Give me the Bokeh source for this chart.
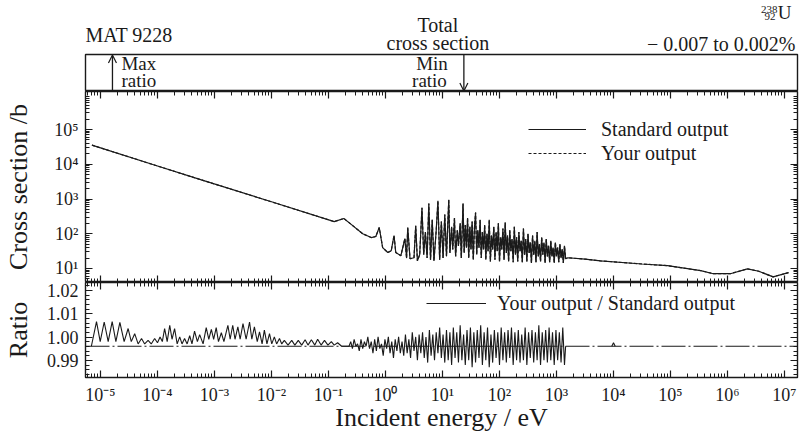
import numpy as np
from bokeh.plotting import figure
from bokeh.models import (Range1d, LogAxis, LinearAxis, FixedTicker, CustomJSTickFormatter,
                          Legend, LegendItem, Label, Arrow, OpenHead, Span)
from bokeh.layouts import column
from bokeh.embed import file_html
from bokeh.resources import INLINE

# ---------------- data ----------------
# total cross section, log10(E/eV) and log10(sigma/b)
xs_log_energy = [
    -5.15, -4.0, -3.23, -2.0, -0.90, -0.73, -0.64, -0.40, -0.25, -0.17, -0.11, -0.05, 0.04, 0.10, 0.15, 0.18, 0.27,
    0.34, 0.37, 0.39, 0.43, 0.50, 0.53, 0.56, 0.60, 0.64, 0.67, 0.70, 0.73, 0.76, 0.79, 0.82, 0.85, 0.89, 0.92,
    0.95, 0.98, 1.01, 1.04, 1.07, 1.11, 1.13, 1.16, 1.18, 1.21, 1.23, 1.26, 1.28, 1.31, 1.33, 1.36, 1.38, 1.40,
    1.42, 1.44, 1.46, 1.48, 1.50, 1.52, 1.54, 1.56, 1.58, 1.60, 1.62, 1.64, 1.66, 1.68, 1.70, 1.72, 1.74, 1.76,
    1.78, 1.80, 1.82, 1.84, 1.86, 1.88, 1.90, 1.92, 1.94, 1.96, 1.98, 2.00, 2.02, 2.04, 2.06, 2.08, 2.10, 2.12,
    2.14, 2.16, 2.18, 2.20, 2.22, 2.24, 2.26, 2.28, 2.30, 2.32, 2.34, 2.36, 2.38, 2.40, 2.42, 2.44, 2.46, 2.48,
    2.50, 2.52, 2.54, 2.56, 2.58, 2.60, 2.62, 2.64, 2.66, 2.68, 2.70, 2.72, 2.74, 2.76, 2.78, 2.80, 2.82, 2.84,
    2.86, 2.88, 2.90, 2.92, 2.94, 2.96, 2.98, 3.00, 3.02, 3.04, 3.06, 3.08, 3.10, 3.12, 3.14, 3.16,
    3.20, 3.50, 3.77, 4.50, 4.95, 5.53, 5.75, 6.05, 6.35, 6.55, 6.80, 7.07]
xs_log_sigma = [
    4.55, 3.95, 3.55, 2.92, 2.35, 2.44, 2.32, 2.00, 1.89, 1.92, 2.18, 1.60, 1.46, 1.51, 1.95, 1.46, 1.37,
    1.86, 1.30, 2.18, 1.28, 1.31, 2.23, 1.22, 1.40, 2.75, 1.40, 2.05, 1.30, 2.87, 1.25, 2.40, 1.22, 2.10, 2.95,
    1.25, 2.35, 1.30, 2.55, 1.35, 2.98, 1.45, 2.20, 1.55, 2.45, 1.35, 2.10, 1.65, 2.30, 1.30, 2.87, 1.45, 2.25,
    1.60, 2.45, 1.30, 2.20, 1.55, 2.35, 1.25, 2.15, 2.61, 1.40, 2.10, 1.60, 2.40, 1.30, 2.05, 1.55, 2.25, 1.25,
    2.00, 1.50, 2.40, 1.20, 1.95, 1.55, 2.20, 1.25, 2.05, 1.50, 2.30, 1.20, 1.90, 1.55, 2.15, 1.25, 2.32, 1.45,
    1.95, 1.20, 2.10, 1.50, 1.85, 1.18, 2.20, 1.40, 1.90, 1.20, 2.05, 1.50, 1.80, 1.18, 2.15, 1.40, 1.85, 1.20,
    2.00, 1.45, 1.75, 1.16, 1.95, 1.40, 1.80, 1.18, 2.05, 1.35, 1.70, 1.20, 1.90, 1.40, 1.75, 1.16, 1.85, 1.35,
    1.65, 1.18, 1.80, 1.35, 1.60, 1.16, 1.75, 1.35, 1.60, 1.18, 1.70, 1.30, 1.55, 1.16, 1.65, 1.28,
    1.31, 1.27, 1.22, 1.13, 1.08, 0.94, 0.85, 0.85, 0.99, 0.92, 0.76, 0.88]

# ratio your/standard, log10(E/eV) and ratio
ratio_log_energy = [
    -5.16, -5.07, -5.005, -4.935, -4.865, -4.795, -4.73, -4.66, -4.585, -4.515, -4.46, -4.40, -4.34, -4.28,
    -4.225, -4.165, -4.11, -4.05, -4.00, -3.955, -3.915, -3.875, -3.83, -3.785, -3.745, -3.70, -3.655, -3.61,
    -3.57, -3.525, -3.48, -3.435, -3.395, -3.35, -3.30, -3.26, -3.20, -3.145, -3.10, -3.055, -3.015, -2.97,
    -2.93, -2.88, -2.835, -2.765, -2.725, -2.68, -2.64, -2.59, -2.55, -2.50, -2.445, -2.385, -2.345, -2.30,
    -2.25, -2.21, -2.165, -2.125, -2.08, -2.035, -1.995, -1.95, -1.91, -1.86, -1.82, -1.775, -1.71, -1.645,
    -1.59, -1.53, -1.47, -1.41, -1.36, -1.30, -1.24, -1.19, -1.13, -1.07, -1.01, -0.95, -0.90, -0.84, -0.77,
    -0.68, -0.64, -0.61, -0.58, -0.55, -0.52, -0.49, -0.46, -0.43, -0.40, -0.37, -0.34, -0.31, -0.28, -0.25,
    -0.22, -0.19, -0.16, -0.13, -0.10, -0.07, -0.04, -0.01, 0.02, 0.05, 0.08, 0.11, 0.14, 0.17, 0.20, 0.23,
    0.26, 0.29, 0.32, 0.35, 0.38, 0.41, 0.44, 0.47, 0.50, 0.53, 0.56, 0.59, 0.62, 0.65, 0.68, 0.71, 0.74,
    0.77, 0.80, 0.83, 0.86, 0.89, 0.92, 0.95, 0.98, 1.01, 1.04, 1.07, 1.10, 1.13, 1.16, 1.19, 1.22, 1.25,
    1.28, 1.31, 1.34, 1.37, 1.40, 1.43, 1.46, 1.49, 1.52, 1.55, 1.58, 1.61, 1.64, 1.67, 1.70, 1.73, 1.76,
    1.79, 1.82, 1.85, 1.88, 1.91, 1.94, 1.97, 2.00, 2.03, 2.06, 2.09, 2.12, 2.15, 2.18, 2.21, 2.24, 2.27,
    2.30, 2.33, 2.36, 2.39, 2.42, 2.45, 2.48, 2.51, 2.54, 2.57, 2.60, 2.63, 2.66, 2.69, 2.72, 2.75, 2.78,
    2.81, 2.84, 2.87, 2.90, 2.93, 2.96, 2.99, 3.02, 3.05, 3.08, 3.11, 3.14, 3.16]
ratio_value = [
    0.9961, 1.0067, 0.9981, 1.0065, 0.9981, 1.0067, 0.9981, 1.0063, 0.9981, 1.0037, 0.9981, 1.0015, 0.9971, 0.9994,
    0.9971, 0.9986, 0.9971, 0.9994, 0.9976, 1.0001, 0.9981, 1.0037, 0.9981, 1.0051, 0.9991, 1.0037, 0.9971, 1.0001,
    0.9971, 0.9994, 0.9971, 1.0006, 0.9971, 1.0026, 0.9981, 1.0011, 0.9971, 1.0041, 0.9991, 1.0033, 0.9991, 1.0041,
    0.9981, 1.0019, 0.9981, 1.0051, 0.9991, 1.0051, 0.9991, 1.0044, 0.9991, 1.0058, 0.9991, 1.0065, 0.9991, 1.0044,
    0.9981, 1.0023, 0.9971, 1.0030, 0.9971, 1.0015, 0.9971, 1.0001, 0.9971, 0.9994, 0.9971, 0.9986, 0.9966, 0.9986,
    0.9966, 0.9986, 0.9966, 0.9989, 0.9966, 0.9989, 0.9966, 0.9991, 0.9966, 0.9986, 0.9966, 0.9981, 0.9966, 0.9976, 0.9961,
    0.9961, 0.9961, 0.9981, 0.9951, 0.9991, 0.9961, 0.9971, 0.9941, 0.9991, 0.9951, 0.9981, 0.9961, 1.0001, 0.9951, 0.9981,
    0.9931, 0.9991, 0.9941, 1.0001, 0.9951, 0.9971, 0.9921, 0.9991, 0.9951, 1.0001, 0.9931, 0.9981, 0.9911, 0.9991, 0.9941, 1.0001,
    0.9931, 0.9981, 0.9921, 1.0011, 0.9931, 0.9991, 0.9911, 1.0021, 0.9941, 1.0001, 0.9901, 1.0011, 0.9931, 1.0021, 0.9911, 1.0001, 0.9891,
    1.0031, 0.9921, 1.0011, 0.9901, 1.0021, 0.9931, 1.0041, 0.9911, 1.0011, 0.9891, 1.0031, 0.9901, 1.0021, 0.9881, 1.0041, 0.9911, 1.0021,
    0.9891, 1.0051, 0.9901, 1.0011, 0.9881, 1.0031, 0.9901, 1.0041, 0.9871, 1.0021, 0.9891, 1.0031, 0.9911, 1.0051, 0.9881, 1.0021, 0.9901,
    1.0041, 0.9871, 1.0011, 0.9891, 1.0031, 0.9911, 1.0021, 0.9881, 1.0041, 0.9901, 1.0021, 0.9891, 1.0031, 0.9911, 1.0041, 0.9881, 1.0021,
    0.9901, 1.0031, 0.9891, 1.0011, 0.9901, 1.0041, 0.9881, 1.0021, 0.9911, 1.0031, 0.9891, 1.0021, 0.9901, 1.0051, 0.9881, 1.0021, 0.9901,
    1.0031, 0.9891, 1.0041, 0.9901, 1.0021, 0.9881, 1.0031, 0.9901, 1.0021, 0.9891, 1.0041, 0.9881, 0.9961]
# small feature near 10 keV
ratio_bump_log_energy = [3.97, 4.00, 4.03]
ratio_bump_value = [0.9961, 0.9976, 0.9961]
ratio_reference = 0.9961

max_ratio_log_energy = -4.79
min_ratio_log_energy = 1.375

x_tick_exponents = list(range(-5, 8))
y_tick_exponents = [1, 2, 3, 4, 5]
ratio_ticks = [0.99, 1.00, 1.01, 1.02]

# ---------------- styling ----------------
FONT = "Liberation Serif"
INK = "#1a1a1a"
W = 800
LB, RB = 84, 3

x_range = Range1d(10 ** -5.263, 10 ** 7.228)

x_major = [10.0 ** k for k in x_tick_exponents]
x_minor = [m * 10.0 ** k for k in range(-6, 8) for m in range(2, 10)]

log_fmt = CustomJSTickFormatter(code="""
const sup = {'-':'\u207b','0':'\u2070','1':'\u00b9','2':'\u00b2','3':'\u00b3','4':'\u2074',
             '5':'\u2075','6':'\u2076','7':'\u2077','8':'\u2078','9':'\u2079'};
const e = Math.round(Math.log10(tick));
return '10' + String(e).split('').map(c => sup[c]).join('');
""")
blank_fmt = CustomJSTickFormatter(code="return '';")
ratio_fmt = CustomJSTickFormatter(code="return tick.toFixed(2);")


def style_axis(ax, labels):
    ax.major_tick_in = 7
    ax.major_tick_out = 0
    ax.minor_tick_in = 4
    ax.minor_tick_out = 0
    ax.major_tick_line_color = INK
    ax.minor_tick_line_color = INK
    ax.major_tick_line_width = 1.2
    ax.minor_tick_line_width = 1
    ax.axis_line_color = None
    ax.major_label_text_font = FONT
    ax.major_label_text_font_size = "18px"
    ax.major_label_text_color = INK
    ax.axis_label_text_font = FONT
    ax.axis_label_text_font_size = "26px"
    ax.axis_label_text_font_style = "normal"
    ax.axis_label_text_color = INK
    if not labels:
        ax.formatter = blank_fmt
        ax.major_label_text_font_size = "0px"
        ax.major_label_standoff = 0


def base_fig(height, y_axis_type, y_range, top, bottom, outline=True):
    f = figure(width=W, height=height, x_axis_type="log", y_axis_type=y_axis_type,
               x_range=x_range, y_range=y_range, x_axis_location=None, y_axis_location=None,
               output_backend="svg", toolbar_location=None,
               min_border_left=LB, min_border_right=RB, min_border_top=top, min_border_bottom=bottom)
    f.grid.visible = False
    f.outline_line_color = INK if outline else None
    f.outline_line_width = 1.4
    f.background_fill_color = "white"
    f.border_fill_color = "white"
    return f


def lab(fig, x, y, text, size, align="left", xo=0):
    fig.add_layout(Label(x=x, y=y, text=text, text_font=FONT, text_font_size=size, text_color=INK,
                         text_align=align, text_baseline="middle", x_offset=xo))


# ---------------- header texts (y in px above the strip bottom) ----------------
head = base_fig(53, "linear", Range1d(0, 53), 0, 0, outline=False)
lab(head, x_range.start, 19, "MAT 9228", "20px")
lab(head, 10 ** 0.919, 29, "Total", "20px", "center")
lab(head, 10 ** 0.919, 11, "cross section", "20px", "center")
lab(head, x_range.end, 10, "\u2212 0.007 to 0.002%", "20px", "right", -2)
lab(head, x_range.end, 44, "238", "11px", "right", -20)
lab(head, x_range.end, 37, "92", "11px", "right", -22)
lab(head, x_range.end, 41, "U", "19px", "right", -6)

# ---------------- annotation box ----------------
box = base_fig(38, "linear", Range1d(0, 37), 1, 0)
e_max = 10 ** max_ratio_log_energy
e_min = 10 ** min_ratio_log_energy
box.add_layout(Arrow(end=OpenHead(size=8, line_width=1.2, line_color=INK), x_start=e_max, y_start=0,
                     x_end=e_max, y_end=36.5, line_width=1.3, line_color=INK))
box.add_layout(Arrow(end=OpenHead(size=8, line_width=1.2, line_color=INK), x_start=e_min, y_start=37,
                     x_end=e_min, y_end=0.5, line_width=1.3, line_color=INK))
lab(box, e_max, 28, "Max", "19px", "left", 9)
lab(box, e_max, 11, "ratio", "19px", "left", 9)
lab(box, e_min, 28, "Min", "19px", "right", -16)
lab(box, e_min, 11, "ratio", "19px", "right", -17)

# ---------------- cross section panel ----------------
mid = base_fig(191, "log", Range1d(10 ** 0.597, 10 ** 6.094), 0, 0)
xs_e = 10 ** np.array(xs_log_energy)
xs_s = 10 ** np.array(xs_log_sigma)
r_std = mid.line(xs_e, xs_s, line_color=INK, line_width=1.2)
r_you = mid.line(xs_e, xs_s, line_color=INK, line_width=1.2, line_dash="3 2")

y_major = [10.0 ** k for k in y_tick_exponents]
y_minor = [m * 10.0 ** k for k in range(0, 7) for m in range(2, 10)]
for side, lbl in (("left", True), ("right", False)):
    ax = LogAxis(ticker=FixedTicker(ticks=y_major, minor_ticks=y_minor), formatter=log_fmt)
    style_axis(ax, lbl)
    if lbl:
        ax.axis_label = "Cross section /b"
        ax.major_label_standoff = 7
        ax.axis_label_standoff = 18
    mid.add_layout(ax, side)
for side in ("above", "below"):
    ax = LogAxis(ticker=FixedTicker(ticks=x_major, minor_ticks=x_minor))
    style_axis(ax, False)
    mid.add_layout(ax, side)

leg1 = Legend(items=[LegendItem(label="Standard output", renderers=[r_std]),
                     LegendItem(label="Your output", renderers=[r_you])],
              location=(443, 117), border_line_color=None, background_fill_alpha=0,
              label_text_font=FONT, label_text_font_size="20px", label_text_color=INK,
              glyph_width=58, glyph_height=24, label_height=24, label_standoff=15,
              padding=0, margin=0, spacing=0)
mid.add_layout(leg1)

# ---------------- ratio panel ----------------
bot = base_fig(153, "linear", Range1d(0.98271, 1.02343), 0, 58)
bot.add_layout(Span(location=ratio_reference, dimension="width", line_color=INK, line_width=1.2,
                    line_dash="24 3 2 3"))
r_ratio = bot.line(10 ** np.array(ratio_log_energy), ratio_value, line_color=INK, line_width=1.1)
bot.line(10 ** np.array(ratio_bump_log_energy), ratio_bump_value, line_color=INK, line_width=1.1)

r_minor = [0.984, 0.986, 0.988, 0.992, 0.994, 0.996, 0.998, 1.002, 1.004, 1.006, 1.008,
           1.012, 1.014, 1.016, 1.018, 1.022]
for side, lbl in (("left", True), ("right", False)):
    ax = LinearAxis(ticker=FixedTicker(ticks=ratio_ticks, minor_ticks=r_minor), formatter=ratio_fmt)
    style_axis(ax, lbl)
    if lbl:
        ax.axis_label = "Ratio"
        ax.major_label_standoff = 7
        ax.axis_label_standoff = 11
    bot.add_layout(ax, side)
ax = LogAxis(ticker=FixedTicker(ticks=x_major, minor_ticks=x_minor))
style_axis(ax, False)
bot.add_layout(ax, "above")
ax = LogAxis(ticker=FixedTicker(ticks=x_major, minor_ticks=x_minor), formatter=log_fmt)
style_axis(ax, True)
ax.axis_label = "Incident energy / eV"
ax.major_label_standoff = 7
ax.axis_label_standoff = -5
bot.add_layout(ax, "below")

leg2 = Legend(items=[LegendItem(label="Your output / Standard output", renderers=[r_ratio])],
              location=(341, 62), border_line_color=None, background_fill_alpha=0,
              label_text_font=FONT, label_text_font_size="20px", label_text_color=INK,
              glyph_width=60, glyph_height=24, label_height=24, label_standoff=11,
              padding=0, margin=0, spacing=0)
bot.add_layout(leg2)

layout = column(head, box, mid, bot, spacing=0)
open("out.html", "w").write(file_html(layout, INLINE))
